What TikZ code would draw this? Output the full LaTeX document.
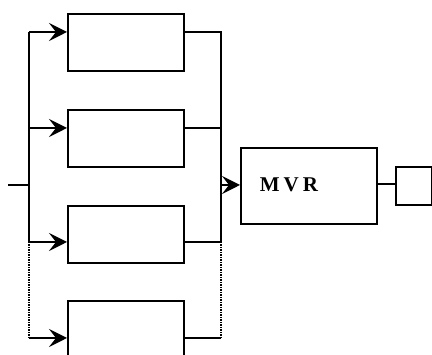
\documentclass[tikz,border=0pt]{standalone}
\usepackage{fontspec}
\setmainfont{Liberation Serif}
\usetikzlibrary{arrows.meta}
\begin{document}
\begin{tikzpicture}[x=1pt,y=-1pt,
  blk/.style={draw,line width=1.7pt,inner sep=0pt,anchor=north west},
  wire/.style={line width=1.5pt},
  dots/.style={line width=1.3pt,dash pattern=on 1.2pt off 1.3pt},
  arr/.style={wire,-{Stealth[length=18pt,width=18pt,inset=7pt]}},
  lbl/.style={font=\fontsize{21}{21}\selectfont\bfseries}]
\useasboundingbox (0,0) rectangle (432,355);
\clip (0,0) rectangle (432,355);
% branch boxes
\node[blk,minimum width=116pt,minimum height=57pt] (b1) at (67,13) {};
\node[blk,minimum width=116pt,minimum height=57pt] (b2) at (67,109) {};
\node[blk,minimum width=116pt,minimum height=57pt] (b3) at (67,205) {};
\node[blk,minimum width=116pt,minimum height=70pt] (b4) at (67,300) {};
\node[blk,minimum width=136pt,minimum height=76pt] (mvr) at (240,147) {};
\node[lbl] (mvrt) at (289,185) {M\kern4pt V\kern4pt R};
\node[blk,minimum width=36pt,minimum height=38pt] (out) at (395,166) {};
% left bus coordinates
\coordinate (in) at (8,185);
\coordinate (l0) at (29,185);
\coordinate (l1) at (29,32);
\coordinate (l2) at (29,128);
\coordinate (l3) at (29,242);
\coordinate (l4) at (29,338);
% right bus coordinates
\coordinate (r1) at (221,32);
\coordinate (r2) at (221,128);
\coordinate (r3) at (221,242);
\coordinate (r4) at (221,338);
\coordinate (r0) at (221,185);
% input and left bus
\draw[wire] (in) -- (l0);
\draw[wire] (l1) -- (l3);
\draw[dots] (l3) -- (l4);
\draw[arr] (l1) -- (b1.west |- l1);
\draw[arr] (l2) -- (b2.west |- l2);
\draw[arr] (l3) -- (b3.west |- l3);
\draw[arr] (l4) -- (b4.west |- l4);
% outputs and right bus
\draw[wire] (b1.east |- r1) -- (r1) -- (r3);
\draw[wire] (b2.east |- r2) -- (r2);
\draw[wire] (b3.east |- r3) -- (r3);
\draw[dots] (r3) -- (r4);
\draw[wire] (b4.east |- r4) -- (r4);
\draw[arr] (r0) -- (mvr.west |- r0);
% mvr to output box
\draw[wire] (mvr.east |- 0,184) -- (out.west |- 0,184);
\end{tikzpicture}
\end{document}
